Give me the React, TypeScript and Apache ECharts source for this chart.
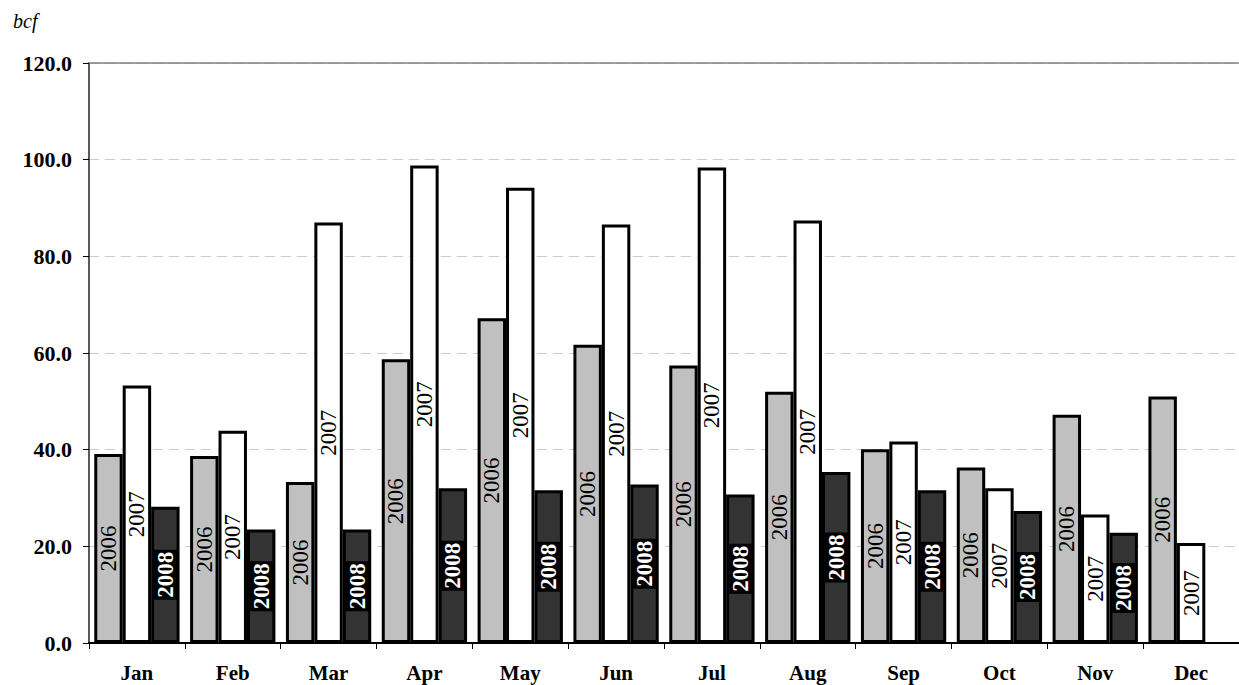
import React, { useEffect, useRef } from "react";
import * as echarts from "echarts";

// Monthly volumes in bcf
const months = ["Jan", "Feb", "Mar", "Apr", "May", "Jun", "Jul", "Aug", "Sep", "Oct", "Nov", "Dec"];
const years = ["2006", "2007", "2008"];
const values2006 = [39.1, 38.7, 33.3, 58.7, 67.2, 61.7, 57.4, 52.0, 40.1, 36.3, 47.2, 51.0];
const values2007 = [53.3, 43.9, 87.0, 98.8, 94.2, 86.6, 98.4, 87.4, 41.7, 32.0, 26.6, 20.7];
const values2008 = [28.2, 23.5, 23.5, 32.0, 31.6, 32.8, 30.7, 35.4, 31.6, 27.3, 22.8, null];

const FONT = "Liberation Serif";

export default function App() {
  const ref = useRef<HTMLDivElement>(null);

  useEffect(() => {
    if (!ref.current) return;
    const chart = echarts.init(ref.current, null, { renderer: "svg" });

    const plainLabel = {
      show: true,
      position: "inside",
      rotate: 90,
      color: "#000",
      fontFamily: FONT,
      fontSize: 23,
      formatter: (p: any) => p.seriesName,
    };

    chart.setOption({
      animation: false,
      backgroundColor: "#fff",
      textStyle: { fontFamily: FONT },
      graphic: [
        {
          type: "text",
          left: 13,
          top: 11,
          style: { text: "bcf", fontFamily: FONT, fontStyle: "italic", fontSize: 20, fill: "#000" },
        },
      ],
      grid: { left: 89, top: 63, bottom: 42, right: -17, containLabel: false },
      xAxis: [
        {
          type: "category",
          data: months,
          axisLine: { show: true, lineStyle: { color: "#000", width: 2 } },
          axisTick: { show: true, length: 6, lineStyle: { color: "#000", width: 1 } },
          axisLabel: { margin: 19, color: "#000", fontFamily: FONT, fontWeight: "bold", fontSize: 21 },
        },
        {
          type: "category",
          data: months,
          position: "top",
          axisLine: { show: true, lineStyle: { color: "#808080", width: 1.5 } },
          axisTick: { show: false },
          axisLabel: { show: false },
        },
      ],
      yAxis: {
        type: "value",
        min: 0,
        max: 120,
        interval: 20,
        axisLine: { show: true, lineStyle: { color: "#222", width: 1.5 } },
        axisTick: { show: true, length: 6, lineStyle: { color: "#000" } },
        axisLabel: {
          margin: 17,
          color: "#000",
          fontFamily: FONT,
          fontWeight: "bold",
          fontSize: 22,
          formatter: (v: number) => v.toFixed(1),
        },
        splitLine: { show: true, lineStyle: { color: "#cccccc", type: [10, 6], width: 1 } },
      },
      series: [
        {
          name: years[0],
          type: "bar",
          data: values2006,
          barGap: "0%",
          barCategoryGap: "11%",
          itemStyle: { color: "#c0c0c0", borderColor: "#000", borderWidth: 3 },
          label: plainLabel,
        },
        {
          name: years[1],
          type: "bar",
          data: values2007,
          barGap: "0%",
          barCategoryGap: "11%",
          itemStyle: { color: "#ffffff", borderColor: "#000", borderWidth: 3 },
          label: plainLabel,
        },
        {
          name: years[2],
          type: "bar",
          data: values2008,
          barGap: "0%",
          barCategoryGap: "11%",
          itemStyle: { color: "#333333", borderColor: "#000", borderWidth: 3 },
          label: {
            show: true,
            position: "inside",
            rotate: 90,
            color: "#fff",
            fontFamily: FONT,
            fontWeight: "bold",
            fontSize: 23,
            lineHeight: 22,
            backgroundColor: "#000",
            padding: [2, 2],
            formatter: (p: any) => p.seriesName,
          },
        },
      ],
    });

    return () => chart.dispose();
  }, []);

  return (
    <div
      ref={ref}
      style={{ position: "absolute", left: 0, top: 0, width: 1239, height: 685 }}
    />
  );
}
